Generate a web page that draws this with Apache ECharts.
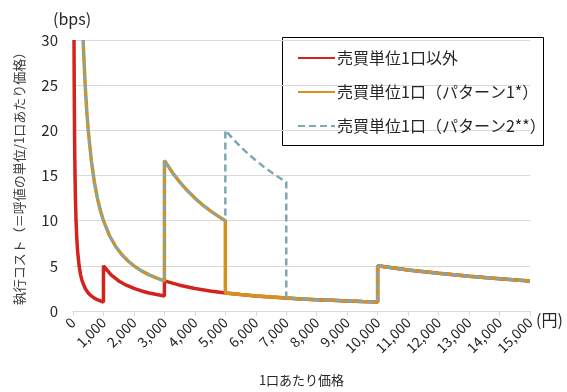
<!DOCTYPE html>
<html><head><meta charset="utf-8">
<script src="https://cdn.jsdelivr.net/npm/echarts@6/dist/echarts.min.js"></script>
<style>html,body{margin:0;padding:0;background:#fff}#c{width:567px;height:392px}</style>
</head><body><div id="c"></div>
<script>
const seriesNames = ['売買単位1口以外', '売買単位1口（パターン1*）', '売買単位1口（パターン2**）'];
const xTicks = [0,1000,2000,3000,4000,5000,6000,7000,8000,9000,10000,11000,12000,13000,14000,15000];
const yTicks = [0,5,10,15,20,25,30];

// 売買単位1口以外 (price, bps)
const redX = [33,40,50,60,70,80,100,125,150,200,250,300,400,500,600,700,800,900,1000,
  1000,1250,1500,1750,2000,2250,2500,2750,3000,
  3000,3500,4000,4500,5000,5500,6000,6500,7000,7500,8000,8500,9000,9500,10000,
  10000,11000,12000,13000,14000,15000];
const redY = [30,25,20,16.7,14.3,12.5,10,8,6.67,5,4,3.33,2.5,2,1.67,1.43,1.25,1.11,1,
  5,4,3.33,2.86,2.5,2.22,2,1.82,1.67,
  3.33,2.86,2.5,2.22,2,1.82,1.67,1.54,1.43,1.33,1.25,1.18,1.11,1.05,1,
  5,4.55,4.17,3.85,3.57,3.33];

// 売買単位1口（パターン1*）
const orangeX = [333,350,400,450,500,600,700,800,900,1000,1200,1400,1600,1800,2000,2250,2500,2750,3000,
  3000,3250,3500,3750,4000,4250,4500,4750,5000,
  5000,5500,6000,6500,7000,7500,8000,8500,9000,9500,10000,
  10000,11000,12000,13000,14000,15000];
const orangeY = [30,28.6,25,22.2,20,16.7,14.3,12.5,11.1,10,8.33,7.14,6.25,5.56,5,4.44,4,3.64,3.33,
  16.67,15.38,14.29,13.33,12.5,11.76,11.11,10.53,10,
  2,1.82,1.67,1.54,1.43,1.33,1.25,1.18,1.11,1.05,1,
  5,4.55,4.17,3.85,3.57,3.33];

// 売買単位1口（パターン2**）
const tealX = [333,350,400,450,500,600,700,800,900,1000,1200,1400,1600,1800,2000,2250,2500,2750,3000,
  3000,3250,3500,3750,4000,4250,4500,4750,5000,
  5000,5250,5500,5750,6000,6250,6500,6750,7000,
  7000,7500,8000,8500,9000,9500,10000,
  10000,11000,12000,13000,14000,15000];
const tealY = [30,28.6,25,22.2,20,16.7,14.3,12.5,11.1,10,8.33,7.14,6.25,5.56,5,4.44,4,3.64,3.33,
  16.67,15.38,14.29,13.33,12.5,11.76,11.11,10.53,10,
  20,19.05,18.18,17.39,16.67,16,15.38,14.81,14.29,
  1.43,1.33,1.25,1.18,1.11,1.05,1,
  5,4.55,4.17,3.85,3.57,3.33];

const zip = (xs, ys) => xs.map((x, i) => [x, ys[i]]);
const FONT = '"Noto Sans CJK JP", "Noto Sans", sans-serif';

const chart = echarts.init(document.getElementById('c'), null, {renderer: 'canvas'});
chart.setOption({
  animation: false,
  textStyle: {fontFamily: FONT},
  grid: {left: 73, right: 37, top: 40, bottom: 80, containLabel: false},
  xAxis: {
    type: 'value', min: xTicks[0], max: xTicks[xTicks.length - 1], interval: 1000,
    name: '1口あたり価格', nameLocation: 'middle', nameGap: 63,
    nameTextStyle: {fontSize: 13, color: '#262626', fontFamily: FONT},
    axisLine: {lineStyle: {color: '#d9d9d9', width: 1}},
    axisTick: {show: true, length: 5, lineStyle: {color: '#d9d9d9'}},
    splitLine: {show: false},
    axisLabel: {rotate: 45, fontSize: 14, color: '#262626', margin: 9, fontFamily: FONT,
      formatter: v => v.toLocaleString('en-US')}
  },
  yAxis: {
    type: 'value', min: yTicks[0], max: yTicks[yTicks.length - 1], interval: 5,
    name: '執行コスト（＝呼値の単位/1口あたり価格）', nameLocation: 'middle', nameGap: 47,
    nameTextStyle: {fontSize: 13, color: '#404040', fontFamily: FONT},
    axisLine: {show: false}, axisTick: {show: false},
    splitLine: {lineStyle: {color: '#d9d9d9', width: 1}},
    axisLabel: {fontSize: 15, color: '#262626', margin: 15, fontFamily: FONT}
  },
  legend: {
    orient: 'vertical', left: 292, top: 45, itemGap: 18,
    itemWidth: 37, itemHeight: 20,
    itemStyle: {opacity: 0},
    textStyle: {fontSize: 16, color: '#262626', fontFamily: FONT, padding: [0, 0, 0, -3]},
    data: seriesNames
  },
  graphic: [
    {type: 'rect', shape: {x: 282.5, y: 37.5, width: 261, height: 108}, style: {fill: null, stroke: '#000', lineWidth: 1}, z: 0},
    {type: 'text', left: 53, top: 11, style: {text: '(bps)', fontSize: 16, fill: '#262626', fontFamily: FONT}},
    {type: 'text', left: 536, top: 312, style: {text: '(円)', fontSize: 16, fill: '#262626', fontFamily: FONT}}
  ],
  series: [
    {name: seriesNames[0], type: 'line', data: zip(redX, redY), symbol: 'none',
      lineStyle: {color: '#d2231f', width: 3.5}, itemStyle: {color: '#d2231f'}},
    {name: seriesNames[1], type: 'line', data: zip(orangeX, orangeY), symbol: 'none',
      lineStyle: {color: '#d4911d', width: 3.5}, itemStyle: {color: '#d4911d'}},
    {name: seriesNames[2], type: 'line', data: zip(tealX, tealY), symbol: 'none',
      lineStyle: {color: '#7ca8b1', width: 2.5, type: [7, 4]}, itemStyle: {color: '#7ca8b1'}}
  ]
});
</script></body></html>
